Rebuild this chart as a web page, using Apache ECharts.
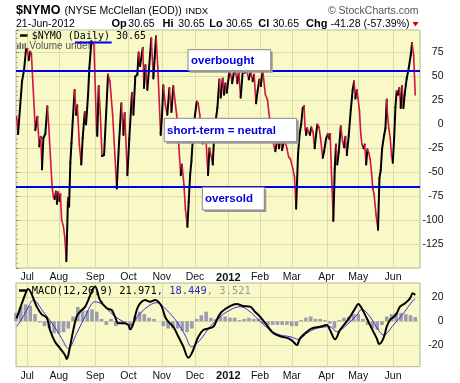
<!DOCTYPE html>
<html><head><meta charset="utf-8">
<script src="https://cdn.jsdelivr.net/npm/echarts@6/dist/echarts.min.js"></script>
<style>html,body{margin:0;padding:0;background:#fff}#c{width:460px;height:383px}</style>
</head><body><div id="c"></div>
<script>
// trading-day index of the first session of each month (index 0 = 22-Jun-2011)
const monthIdx = [7, 27, 50, 71, 92, 113, 134, 154, 174, 196, 216, 238];
const monthLabels = ['Jul', 'Aug', 'Sep', 'Oct', 'Nov', 'Dec', '2012', 'Feb', 'Mar', 'Apr', 'May', 'Jun'];

// $NYMO turning points: trading-day index and value
const nymoDay = [0.4,1.3,3.8,5.1,6.3,7.2,8.0,9.0,9.7,12.2,13.5,14.7,15.6,16.4,17.3,18.5,19.8,20.6,21.9,22.8,23.6,24.4,25.2,25.8,26.6,27.4,28.0,28.8,29.9,30.8,31.8,32.8,33.5,34.3,35.0,35.8,37.0,37.9,38.7,40.0,41.2,42.1,43.4,44.2,45.5,46.3,47.6,49.2,50.9,51.3,52.2,53.2,54.3,55.6,58.1,59.3,61.0,63.6,65.0,66.5,67.8,68.6,70.3,71.5,73.2,74.1,75.3,76.6,77.4,78.3,80.0,80.8,81.7,82.9,83.8,85.4,86.7,87.5,88.4,89.5,91.3,92.2,93.0,94.3,95.5,96.8,98.1,99.3,101.4,102.7,104.0,104.8,106.0,106.9,108.2,109.0,109.9,110.7,111.8,113.0,114.1,115.0,116.0,117.8,119.5,121.2,122.1,123.0,124.2,125.0,126.3,127.1,128.4,129.2,130.5,131.3,132.2,133.0,134.7,135.5,136.4,137.6,138.5,139.7,140.6,141.8,143.1,144.4,145.6,146.9,148.1,149.4,150.3,151.5,152.5,153.6,154.5,155.7,157.4,158.7,160.0,161.5,162.5,163.7,165.0,166.0,167.0,167.9,169.5,171.0,172.1,173.2,174.7,175.8,176.8,178.0,179.0,180.0,181.0,181.8,182.5,183.1,183.8,184.6,185.5,186.4,187.5,188.5,189.3,190.2,191.3,192.2,193.6,194.5,195.7,196.8,197.7,198.3,199.0,200.3,201.2,202.0,202.8,203.7,205.0,206.2,207.1,207.9,208.8,210.0,211.3,212.5,213.4,214.2,215.1,215.9,216.8,217.6,218.4,219.3,220.1,221.0,221.8,222.7,223.5,224.4,225.2,226.0,227.3,228.5,229.4,230.2,231.1,232.4,233.2,234.0,234.5,235.3,236.2,237.0,237.8,238.7,239.5,240.3,241.1,242.0,242.8,243.7,244.5,245.3,246.6,247.9,249.2,250.0,251.0,252.0];
const nymoValue = [8,-10,45,57,78,79,67,76,74,-6,8,-23,-13,-47,-14,-10,19,0,-39,-65,-76,-78,-70,-83,-71,-80,-73,-100,-106,-118,-143,-77,-86,-40,-20,3,36,10,20,-21,-42,-14,13,0,31,59,87,83,-8,-12,40,12,-33,-32,52,45,10,-67,-20,22,-11,12,-53,-15,33,10,50,52,75,61,80,38,62,36,55,90,48,69,92,60,-11,10,41,20,10,38,13,40,10,-21,-53,-42,-63,-88,-107,-81,-53,-39,-10,10,24,22,10,-20,-4,-53,-25,-32,-42,-14,7,17,47,28,48,31,43,33,55,52,43,55,57,43,54,28,55,54,57,47,55,45,52,22,35,47,40,57,31,26,7,-5,-20,-28,-15,-25,-12,-27,-15,-25,-34,-36,-46,-55,-88,-32,-10,0,17,19,-5,-11,-4,-8,-11,-3,-8,-25,-12,0,-3,-14,-35,-28,-15,-10,-15,-10,-45,-101,-46,-21,-42,-29,-2,-18,-24,-13,-32,-12,15,36,45,27,36,27,14,-10,-21,-25,-21,-42,-26,-30,-36,-50,-67,-73,-95,-110,-56,-48,-25,-11,-4,26,10,-4,-14,-32,-40,-14,18,35,31,38,17,40,17,31,48,59,73,85,72,30.65];

const overbought = 56;
const oversold = -65;

// MACD(12,26,9) line
const macdDay = [0.4,5.7,7.6,13.1,16.2,19.4,21.5,24.6,27.8,30.9,32,34.1,36.2,38.3,40.4,43.6,45.6,47.8,49.9,53,57.3,60.4,62.5,64.6,67.7,70.9,72,74.1,76.2,78.3,81.4,84.6,87.8,89.8,92,94.1,96.1,99.3,102.5,105.6,108.8,110.9,113,115.1,118.2,121.4,124.6,127.7,129.9,135.1,139.3,143.5,147.7,150.8,154,158.3,162.5,167.8,172,175,177.2,179.3,182.5,186.7,191.9,196.2,198.2,201.4,204.5,207.8,210.9,214.1,216.1,218.2,221.4,224.5,227.7,229.2,231.9,234,236.1,238.2,240.3,242.4,245.6,248.7,250.4,252];
const macdValue = [2.5,22,27,12.2,5.8,3,-7.3,-17,-22.5,-28,-31.4,-21,-7,4,8,12,17.7,24.7,29,17.7,10.8,9.4,3.8,-1.7,-1.7,-3,-6.7,-1.7,9.4,15,17.7,16.3,17.7,16.3,12.2,3.8,-0.3,-4.5,-12.8,-21,-30.3,-26.7,-19.8,-12.8,-7.3,-6,-4.5,3.8,8,12.7,14.4,12.7,12.2,8,3.8,-3.1,-10,-12.8,-14.2,-17,-19.8,-14.2,-10,-5.9,-4.5,-3.1,-7.3,-15,-7.3,-1.7,3.8,10.8,14.4,10.8,2.5,-5.9,-14.2,-18.9,-14.2,-4.5,1.3,3.3,6.6,12.2,15,19.1,23.3,21.971];
// signal line
const signalDay = [0.4,4.6,7.8,10.9,17.2,23.5,28.8,33,38.3,43.6,49.9,55.1,61.4,67.7,72,78.3,84.6,88.8,95.1,101.5,106.7,110.9,116.2,122.5,128.8,135.1,141.4,147.7,154,160.4,166.7,173,178.3,183.5,189.8,198.2,202.4,208.7,215.1,218.2,223.5,228.7,231.9,238.2,244.5,250.8,252];
const signalValue = [-4.5,4,12.2,17.7,8,-3,-14.2,-22.6,-10,3.8,16.3,13.6,5.2,-0.3,-3.1,6.6,13.6,15.5,9.4,-0.3,-11.4,-21.2,-15.6,-4.5,3.8,9.4,12.2,8,0,-7.3,-11.4,-12.8,-15,-10,-5.9,-4.5,-8.7,-3.1,5.2,9.9,3.8,-7.3,-11.4,-3.1,6.6,17.7,18.449];
// histogram, sampled every third session
const histDay = [0,3,6,9,12,15,18,21,24,27,30,33,36,39,42,45,48,51,54,57,60,63,66,69,72,75,78,81,84,87,90,93,96,99,102,105,108,111,114,117,120,123,126,129,132,135,138,141,144,147,150,153,156,159,162,165,168,171,174,177,180,183,186,189,192,195,198,201,204,207,210,213,216,219,222,225,228,231,234,237,240,243,246,249,252];
const histValue = [7,12,14,13,6,-1,-4,-6,-10,-10,-9,-6,4,12,10,9,10,8,2,-3,2,-4,-2,-2,-4,4,8,6,3,2,0,-4,-6,-6,-6,-8,-9,-6,2,5,8,3,2,4,4,3,3,1,2,3,2,2,-2,-3,-3,-3,-3,-3,-4,-4,1,3,4,2,2,1,-2,-6,1,3,4,6,6,2,-3,-6,-7,-3,4,6,7,7,6,5,3.521];

const nymoTicks = { min: -150, max: 98.6, step: 25 };
const macdTicks = [-20, 0, 20];

const FONT = '"Liberation Sans", Arial, sans-serif';
const MONO = '"DejaVu Sans Mono", monospace';
const GRID = '#dcdcaa';
const RED = '#d4133f';

const segments = [];
for (let i = 0; i < nymoDay.length - 1; i++) {
  segments.push([nymoDay[i], nymoValue[i], nymoDay[i + 1], nymoValue[i + 1]]);
}

function vLines(xi, yi, color) {
  return {
    type: 'custom', xAxisIndex: xi, yAxisIndex: yi, silent: true, z: 1,
    data: monthIdx.map(d => [d, 0]), encode: { x: 0, y: 1 },
    renderItem(params, api) {
      const cs = params.coordSys; const p = api.coord([api.value(0), 0]);
      return { type: 'line', shape: { x1: Math.round(p[0]) + 0.5, y1: cs.y, x2: Math.round(p[0]) + 0.5, y2: cs.y + cs.height },
        style: { stroke: color, lineWidth: 1 } };
    }
  };
}
function hLines(xi, yi, vals, color, width, z) {
  return {
    type: 'custom', xAxisIndex: xi, yAxisIndex: yi, silent: true, z: z,
    data: vals.map(v => [100, v]), encode: { x: 0, y: 1 },
    renderItem(params, api) {
      const cs = params.coordSys; const p = api.coord([100, api.value(1)]);
      const y = width % 2 ? Math.round(p[1]) + 0.5 : Math.round(p[1]);
      return { type: 'line', shape: { x1: cs.x, y1: y, x2: cs.x + cs.width, y2: y },
        style: { stroke: color, lineWidth: width } };
    }
  };
}

const monthLabel = {
  customValues: monthIdx, fontFamily: FONT, fontSize: 10.5, color: '#111', margin: 4,
  formatter: v => { const s = monthLabels[monthIdx.indexOf(v)]; return s === '2012' ? '{b|2012}' : s; },
  rich: { b: { fontWeight: 'bold', fontFamily: FONT, fontSize: 11, color: '#111' } }
};

function box(x, y, w, h, text, tx) {
  return [
    { type: 'rect', z: 100, shape: { x: x + 2, y: y + 2, width: w, height: h }, style: { fill: '#9a9a9a' } },
    { type: 'rect', z: 101, shape: { x: x, y: y, width: w, height: h }, style: { fill: '#fff', stroke: '#888', lineWidth: 1 } },
    { type: 'text', z: 102, x: tx, y: y + h / 2 + 0.5, style: { text: text, font: 'bold 11.5px ' + FONT, fill: '#0000e0', verticalAlign: 'middle' } }
  ];
}

const graphic = [
  { type: 'text', x: 16, y: 11, style: { text: '$NYMO', font: 'bold 12.5px ' + FONT, fill: '#000', verticalAlign: 'middle' } },
  { type: 'text', x: 64.5, y: 11, style: { text: '(NYSE McClellan (EOD))', font: '10.5px ' + FONT, fill: '#000', verticalAlign: 'middle' } },
  { type: 'text', x: 185.5, y: 11, style: { text: 'INDX', font: '9.5px ' + FONT, fill: '#000', verticalAlign: 'middle' } },
  { type: 'text', x: 418.5, y: 11, style: { text: '\u00a9 StockCharts.com', font: '10.5px ' + FONT, fill: '#555', verticalAlign: 'middle', align: 'right' } },
  { type: 'text', x: 16, y: 24, style: { text: '21-Jun-2012', font: '10.5px ' + FONT, fill: '#000', verticalAlign: 'middle' } },
  { type: 'text', x: 111.5, y: 24, style: { text: 'Op', font: 'bold 11px ' + FONT, fill: '#000', verticalAlign: 'middle' } },
  { type: 'text', x: 128.3, y: 24, style: { text: '30.65', font: '10.5px ' + FONT, fill: '#000', verticalAlign: 'middle' } },
  { type: 'text', x: 162.5, y: 24, style: { text: 'Hi', font: 'bold 11px ' + FONT, fill: '#000', verticalAlign: 'middle' } },
  { type: 'text', x: 178.3, y: 24, style: { text: '30.65', font: '10.5px ' + FONT, fill: '#000', verticalAlign: 'middle' } },
  { type: 'text', x: 209.3, y: 24, style: { text: 'Lo', font: 'bold 11px ' + FONT, fill: '#000', verticalAlign: 'middle' } },
  { type: 'text', x: 226, y: 24, style: { text: '30.65', font: '10.5px ' + FONT, fill: '#000', verticalAlign: 'middle' } },
  { type: 'text', x: 258.3, y: 24, style: { text: 'Cl', font: 'bold 11px ' + FONT, fill: '#000', verticalAlign: 'middle' } },
  { type: 'text', x: 272.7, y: 24, style: { text: '30.65', font: '10.5px ' + FONT, fill: '#000', verticalAlign: 'middle' } },
  { type: 'text', x: 306, y: 24, style: { text: 'Chg', font: 'bold 11px ' + FONT, fill: '#000', verticalAlign: 'middle' } },
  { type: 'text', x: 409.5, y: 24, style: { text: '-41.28 (-57.39%)', font: '10.5px ' + FONT, fill: '#000', verticalAlign: 'middle', align: 'right' } },
  { type: 'polygon', shape: { points: [[412.5, 22], [418.5, 22], [415.5, 26.5]] }, style: { fill: '#c00000' } },
  // legends inside the panels
  { type: 'rect', z: 50, shape: { x: 20, y: 34.3, width: 7.5, height: 2.4 }, style: { fill: '#000' } },
  { type: 'text', z: 50, x: 31.7, y: 36, style: { text: '$NYMO (Daily) 30.65', font: '10px ' + MONO, fill: '#000', verticalAlign: 'middle' } },
  { type: 'rect', z: 50, shape: { x: 17, y: 44.5, width: 1.5, height: 4.5 }, style: { fill: '#666' } },
  { type: 'rect', z: 50, shape: { x: 19.5, y: 42.5, width: 1.5, height: 6.5 }, style: { fill: '#666' } },
  { type: 'rect', z: 50, shape: { x: 22, y: 43.5, width: 1.5, height: 5.5 }, style: { fill: '#666' } },
  { type: 'rect', z: 50, shape: { x: 24.5, y: 43, width: 1.5, height: 6 }, style: { fill: '#666' } },
  { type: 'text', z: 50, x: 29.3, y: 46, style: { text: 'Volume undef', font: '10px ' + FONT, fill: '#555', verticalAlign: 'middle' } },
  { type: 'line', z: 60, shape: { x1: 75, y1: 42.5, x2: 111.7, y2: 42.5 }, style: { stroke: '#0000e6', lineWidth: 2 } },
  { type: 'rect', z: 50, shape: { x: 19, y: 289.3, width: 7.7, height: 2.4 }, style: { fill: '#000' } },
  { type: 'text', z: 50, x: 31.7, y: 291, style: {
      text: '{k|MACD(12,26,9) 21.971}{s|, 18.449}{h|, 3.521}', font: '10.4px ' + MONO, verticalAlign: 'middle',
      rich: { k: { fill: '#000', font: '10.4px ' + MONO }, s: { fill: '#2a2acc', font: '10.4px ' + MONO }, h: { fill: '#999', font: '10.4px ' + MONO } } } }
].concat(
  box(188, 49.7, 82.7, 21, 'overbought', 191),
  box(164.3, 118.3, 132.4, 23.4, 'short-term = neutral', 167),
  box(202.3, 187.3, 62, 22.7, 'oversold', 205)
);

const chart = echarts.init(document.getElementById('c'), null, { renderer: 'canvas' });
chart.setOption({
  animation: false,
  backgroundColor: '#fff',
  grid: [
    { left: 16, right: 40, top: 30, height: 238, show: true, backgroundColor: '#f9f9c8', borderColor: '#b4b492', borderWidth: 1, containLabel: false },
    { left: 16, right: 40, top: 283, height: 83.7, show: true, backgroundColor: '#f9f9c8', borderColor: '#b4b492', borderWidth: 1, containLabel: false }
  ],
  xAxis: [
    { type: 'value', gridIndex: 0, min: 0, max: 255, axisLine: { show: false }, axisTick: { show: false }, splitLine: { show: false }, axisLabel: monthLabel },
    { type: 'value', gridIndex: 1, min: 0, max: 255, axisLine: { show: false }, axisTick: { show: false }, splitLine: { show: false }, axisLabel: monthLabel }
  ],
  yAxis: [
    { type: 'value', gridIndex: 0, position: 'right', min: nymoTicks.min, max: nymoTicks.max, interval: nymoTicks.step,
      axisLine: { show: false }, axisTick: { show: true, length: 3, lineStyle: { color: '#888' } },
      minorTick: { show: true, splitNumber: 5, length: 2, lineStyle: { color: '#aaa' } },
      splitLine: { show: true, lineStyle: { color: GRID, width: 1 } },
      axisLabel: { showMinLabel: false, showMaxLabel: false, align: 'right', margin: 23.5, fontFamily: FONT, fontSize: 10.5, color: '#111' } },
    { type: 'value', gridIndex: 1, position: 'right', min: -37.8, max: 31.9,
      axisLine: { show: false }, axisTick: { show: true, length: 3, customValues: macdTicks, lineStyle: { color: '#888' } },
      splitLine: { show: false },
      axisLabel: { customValues: macdTicks, align: 'right', margin: 23.5, fontFamily: FONT, fontSize: 10.5, color: '#111' } }
  ],
  graphic: graphic,
  series: [
    vLines(0, 0, GRID),
    vLines(1, 1, GRID),
    hLines(1, 1, macdTicks, GRID, 1, 1),
    hLines(0, 0, [overbought, oversold], '#0000e6', 2, 20),
    {
      type: 'custom', xAxisIndex: 0, yAxisIndex: 0, z: 10, clip: true, silent: true,
      data: segments, encode: { x: [0, 2], y: [1, 3] },
      renderItem(params, api) {
        const a = api.coord([api.value(0), api.value(1)]);
        const b = api.coord([api.value(2), api.value(3)]);
        const up = api.value(3) > api.value(1);
        return { type: 'line', shape: { x1: a[0], y1: a[1], x2: b[0], y2: b[1] },
          style: { stroke: up ? '#000' : RED, lineWidth: up ? 2 : 1.6, lineCap: 'round' } };
      }
    },
    { type: 'bar', xAxisIndex: 1, yAxisIndex: 1, z: 5, barWidth: 3.6, silent: true,
      itemStyle: { color: '#9c9cb0' }, data: histDay.map((d, i) => [d, histValue[i]]) },
    { type: 'line', xAxisIndex: 1, yAxisIndex: 1, z: 11, smooth: 0.35, showSymbol: false, silent: true,
      lineStyle: { color: '#3a2ee0', width: 1 }, data: signalDay.map((d, i) => [d, signalValue[i]]) },
    { type: 'line', xAxisIndex: 1, yAxisIndex: 1, z: 12, smooth: 0.35, showSymbol: false, silent: true,
      lineStyle: { color: '#000', width: 2 }, data: macdDay.map((d, i) => [d, macdValue[i]]) }
  ]
});
</script>
</body></html>
